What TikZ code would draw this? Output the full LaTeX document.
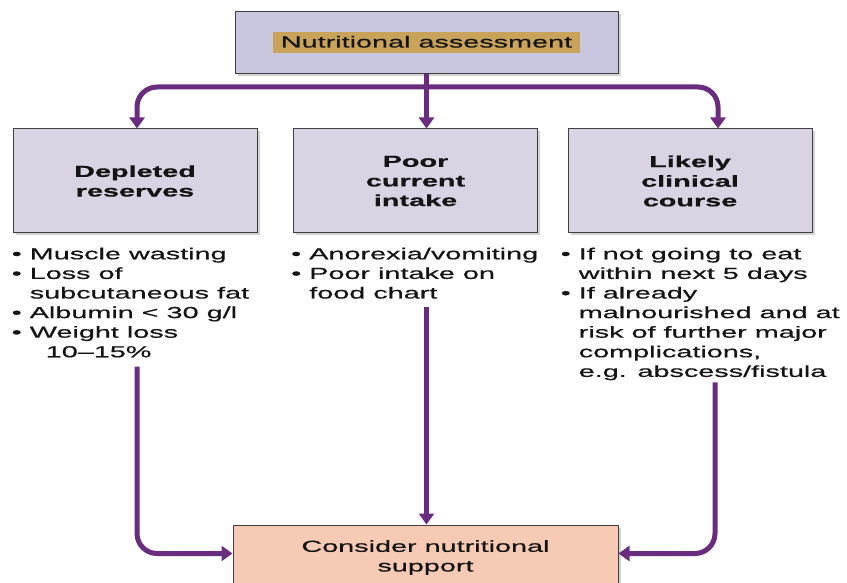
\documentclass[tikz,border=0pt]{standalone}
\usepackage{fontspec}
\setmainfont[FakeStretch=1.8, UprightFeatures={FakeBold=0.6}, BoldFeatures={FakeBold=0.6}]{Liberation Sans}
\usetikzlibrary{arrows.meta,positioning,shadows}
\definecolor{flowpurple}{HTML}{6A2C7E}
\definecolor{boxlav}{HTML}{DAD3E4}
\definecolor{toplav}{HTML}{C9C6DF}
\definecolor{hltan}{HTML}{C9A35A}
\definecolor{peach}{HTML}{F6CAB5}
\definecolor{edgegray}{HTML}{3F3F3F}
\newcommand{\itm}{\textbullet\ }
\newcommand{\cnt}{\hphantom{\textbullet\ }}

\begin{document}
\begin{tikzpicture}[x=1pt,y=1pt,
    font=\fontsize{16}{19.6}\selectfont, text=black!92,
    box/.style = {draw=edgegray, line width=1pt, fill=boxlav, minimum width=244pt, minimum height=104pt, align=center,
                  font=\fontsize{16}{19.6}\selectfont\bfseries, drop shadow={shadow xshift=2.5pt, shadow yshift=-2.5pt, opacity=0.35}},
    list/.style = {align=left, inner sep=0pt, anchor=north west},
    flow/.style = {draw=flowpurple, line width=5pt, -{Triangle[width=15pt,length=11pt]}, rounded corners=20pt}]
    \useasboundingbox (0,0) rectangle (847,582);
    \node[box, fill=toplav, minimum width=383pt, minimum height=62pt] (top) at (426.5,539) {};
    \node[fill=hltan, inner xsep=8pt, inner ysep=3pt, text height=12pt, text depth=3pt] (title) at (top) {Nutritional assessment};
    \node[box] (dep) at (135,401) {Depleted\\reserves};
    \node[box] (poor) at (415.5,401) {Poor\\current\\intake};
    \node[box] (course) at (690,401) {Likely\\clinical\\course};
    % bullet lists under the boxes
    \node[list] (deplist) at (11.5,334.5) {\itm Muscle wasting\\ \itm Loss of\\ \cnt subcutaneous fat\\ \itm Albumin < 30 g/l\\ \itm Weight loss\\ \cnt\hspace{16pt}10–15\%};
    \node[list] (poorlist) at (291,334.5) {\itm Anorexia/vomiting\\ \itm Poor intake on\\ \cnt food chart};
    \node[list] (courselist) at (560.5,334.5) {\itm If not going to eat\\ \cnt within next 5 days\\ \itm If already\\ \cnt malnourished and at\\ \cnt risk of further major\\ \cnt complications,\\ \cnt e.g. abscess/fistula};
    \node[box, fill=peach, minimum width=385pt, minimum height=65pt, font=\fontsize{16}{19.6}\selectfont] (support) at (425.5,24.5) {Consider nutritional\\support};
    % arrows
    \coordinate (split) at (426.5,495);
    \draw[flow] (top.south) -- (top.south |- poor.north);
    \draw[flow] (split) -| ([xshift=2pt]dep.north);
    \draw[flow] (split) -| ([xshift=28pt]course.north);
    \draw[flow] ([xshift=2pt,yshift=-9pt]dep.south |- deplist.south) |- ([yshift=4pt]support.west);
    \draw[flow] ([yshift=-8pt]poorlist.south -| top.south) -- (top.south |- support.north);
    \draw[flow] ([xshift=25pt,yshift=-2pt]course.south |- courselist.south) |- ([yshift=4pt]support.east);
\end{tikzpicture}
\end{document}
